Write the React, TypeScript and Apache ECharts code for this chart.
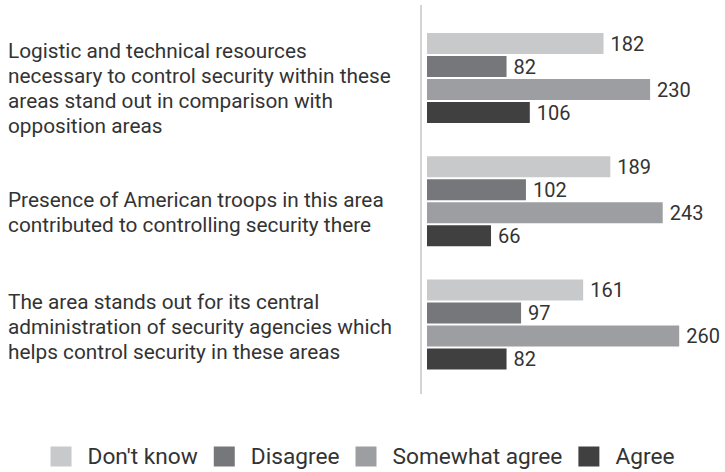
import React, { useEffect, useRef } from "react";
import * as echarts from "echarts";

const categories = [
  "Logistic and technical resources\nnecessary to control security within these\nareas stand out in comparison with\nopposition areas",
  "Presence of American troops in this area\ncontributed to controlling security there",
  "The area stands out for its central\nadministration of security agencies which\nhelps control security in these areas",
];
const seriesNames = ["Don't know", "Disagree", "Somewhat agree", "Agree"];
const dontKnow = [182, 189, 161];
const disagree = [82, 102, 97];
const somewhatAgree = [230, 243, 260];
const agree = [106, 66, 82];

const colors = ["#c8c9cb", "#76777b", "#9d9ea2", "#404040"];
// vertical nudge (px) of each category label block relative to its band centre
const labelShift = [10, 11, 2.5];

export default function App() {
  const ref = useRef<HTMLDivElement>(null);
  useEffect(() => {
    document.body.style.margin = "0";
    if (!ref.current) return;
    const chart = echarts.init(ref.current, null, { renderer: "svg" });
    const values = [dontKnow, disagree, somewhatAgree, agree];
    const font = "Roboto";
    chart.setOption({
      animation: false,
      textStyle: { fontFamily: font },
      grid: { left: 427, top: 16.4, width: 291, height: 369.8, outerBoundsMode: "none" },
      xAxis: {
        type: "value",
        min: 0,
        max: 300,
        show: false,
      },
      yAxis: {
        type: "category",
        inverse: true,
        data: categories,
        axisLine: { show: false },
        axisTick: { show: false },
        axisLabel: { show: false },
      },
      legend: {
        data: seriesNames,
        left: "center",
        top: 440,
        itemWidth: 21,
        itemHeight: 20,
        itemGap: 16,
        icon: "rect",
        textStyle: {
          fontSize: 22.7,
          color: "#333",
          fontFamily: font,
          padding: [0, 0, 0, 11],
        },
      },
      series: seriesNames.map((name, i) => ({
        name,
        type: "bar",
        data: values[i],
        barWidth: 21,
        barGap: "9.5%",
        itemStyle: { color: colors[i] },
        label: {
          show: true,
          position: "right",
          distance: 7,
          fontSize: 20,
          color: "#333",
          fontFamily: font,
        },
      })),
    });
    const labelTexts = categories.map((c, i) => {
      const y = chart.convertToPixel({ yAxisIndex: 0 }, i) as number;
      return {
        type: "text",
        x: 8,
        y: y + labelShift[i],
        style: {
          text: c,
          fontSize: 20.8,
          lineHeight: 25,
          fill: "#333",
          fontFamily: font,
          align: "left",
          verticalAlign: "middle",
        },
      };
    });
    chart.setOption({
      graphic: [
        {
          type: "line",
          shape: { x1: 421, y1: 5, x2: 421, y2: 394 },
          style: { stroke: "#aaa", lineWidth: 1 },
        },
        ...labelTexts,
      ],
    });
    return () => chart.dispose();
  }, []);
  return <div ref={ref} style={{ width: 725, height: 472 }} />;
}
